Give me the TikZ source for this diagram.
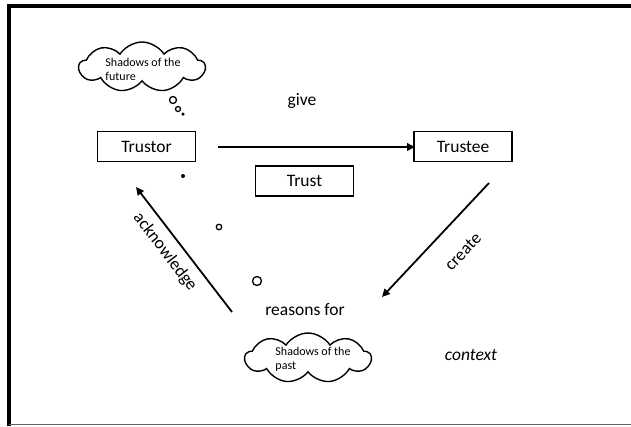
\documentclass[tikz,border=0pt]{standalone}
\usepackage{fontspec}
\setmainfont{Carlito}
\usetikzlibrary{arrows.meta,shapes.symbols}
\begin{document}
\begin{tikzpicture}[x=1pt,y=-1pt,
  box/.style={draw,line width=1.8pt,minimum width=98pt,minimum height=30pt,inner sep=0pt,font=\fontsize{17.5}{20}\selectfont},
  lbl/.style={inner sep=0pt,font=\fontsize{17.5}{20}\selectfont},
  thought/.style={draw,cloud,cloud puffs=9,cloud puff arc=115,aspect=2.6,line width=1.4pt,minimum width=126pt,minimum height=50pt,inner sep=0pt},
  ctext/.style={align=left,font=\fontsize{12}{14}\selectfont,inner sep=0pt},
  bubble/.style={draw,circle,line width=1.3pt,inner sep=0pt},
  arr/.style={line width=1.8pt,-{Triangle[length=8pt,width=7.5pt]}}]
\useasboundingbox (0,0) rectangle (631,426);
\fill[white] (0,0) rectangle (631,426);
% frame
\draw[line width=4pt] (9,426) -- (9,6) -- (631,6);
\draw[line width=1.5pt,black!60] (9,424.5) -- (631,424.5);
% boxes
\node[box] (trustor) at (146.5,146.5) {Trustor};
\node[box] (trustee) at (463,146.5) {Trustee};
\node[box] (trust) at (304.5,181) {Trust};
% labels
\node[lbl] (give) at (302,101) {give};
\node[lbl] (reasons) at (305,310) {reasons for};
\node[lbl,font=\fontsize{17.5}{20}\selectfont\itshape] (context) at (471,355) {context};
% clouds
\node[thought] (cfut) at (142,67) {};
\node[ctext] at (143,69) {Shadows of the\\future};
\node[thought] (cpast) at (308,358) {};
\node[ctext] at (313,359) {Shadows of the\\past};
% thought bubbles
\node[bubble,minimum size=7pt] (b1) at (173,100) {};
\node[bubble,minimum size=5pt] (b2) at (178,109) {};
\node[circle,fill,inner sep=0pt,minimum size=3.5pt] (b3) at (183,114) {};
\node[circle,fill,inner sep=0pt,minimum size=4pt] (b4) at (183,176) {};
\node[bubble,minimum size=5.5pt] (b5) at (219,227) {};
\node[bubble,minimum size=9pt] (b6) at (257,281) {};
% arrows
\coordinate (g1) at (218,147);
\coordinate (g2) at (415,147);
\draw[arr] (g1) -- (g2);
\coordinate (c1) at (489,183);
\coordinate (c2) at (382,297);
\draw[arr] (c1) -- (c2);
\coordinate (a1) at (232,312);
\coordinate (a2) at (136,187);
\draw[arr] (a1) -- (a2);
\node[lbl,rotate=46.8] (create) at (463,252) {create};
\node[lbl,rotate=-52.5] (ack) at (165,252) {acknowledge};
\end{tikzpicture}
\end{document}
